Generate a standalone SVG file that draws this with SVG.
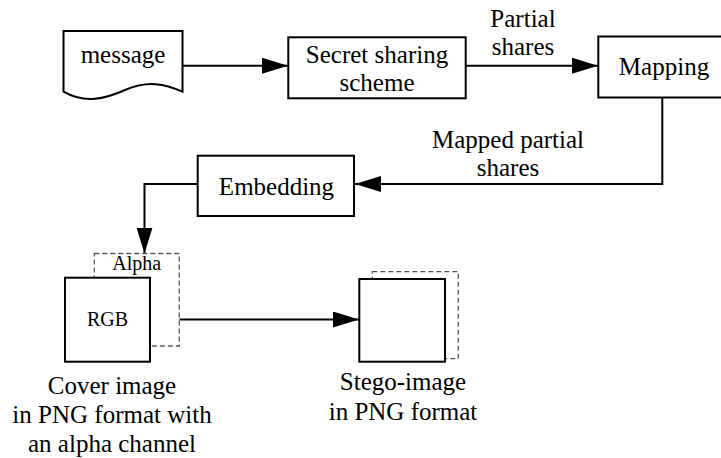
<svg xmlns="http://www.w3.org/2000/svg" width="721" height="458" viewBox="0 0 721 458">
<style>
.box{fill:#fff;stroke:#000;stroke-width:2}
.dash{fill:#fff;stroke:#555;stroke-width:1.3;stroke-dasharray:5,3}
.ln{fill:none;stroke:#000;stroke-width:2}
text{font-family:'Liberation Serif','DejaVu Serif',serif;font-size:25px;fill:#000;text-anchor:middle}
.sm{font-size:20px}
</style>
<defs>
<marker id="ah" markerUnits="userSpaceOnUse" markerWidth="26" markerHeight="16" refX="26" refY="8" orient="auto">
<path d="M0,0 L26,8 L0,16 Z" fill="#000"/>
</marker>
</defs>
<g id="connectors">
<line class="ln" x1="182.5" y1="65.7" x2="288" y2="65.7" marker-end="url(#ah)"/>
<line class="ln" x1="466" y1="65.7" x2="598" y2="65.7" marker-end="url(#ah)"/>
<polyline class="ln" points="662.3,97 662.3,184 355,184" marker-end="url(#ah)"/>
<polyline class="ln" points="198,184 144.5,184 144.5,253.5" marker-end="url(#ah)"/>
<line class="ln" x1="179.3" y1="319.5" x2="359" y2="319.5" marker-end="url(#ah)"/>
<text x="523" y="27">Partial</text>
<text x="523" y="55">shares</text>
<text x="508" y="148">Mapped partial</text>
<text x="508" y="176">shares</text>
</g>
<g id="message">
<path class="box" d="M63.5,31 H182.5 V91.7 C165,84 148,80 125,90 C105,99 85,104 63.5,91.7 Z"/>
<text x="123" y="63">message</text>
</g>
<g id="secret">
<rect class="box" x="288.3" y="37.3" width="177.4" height="61"/>
<text x="377" y="63">Secret sharing</text>
<text x="377" y="91">scheme</text>
</g>
<g id="mapping">
<rect class="box" x="598.3" y="36.5" width="130" height="61"/>
<text x="664" y="75">Mapping</text>
</g>
<g id="embedding">
<rect class="box" x="197.7" y="155.7" width="156.3" height="60.3"/>
<text x="276.5" y="195">Embedding</text>
</g>
<g id="cover">
<rect class="dash" x="94.3" y="253.5" width="85" height="92.5"/>
<text class="sm" x="136.7" y="270">Alpha</text>
<rect class="box" x="65" y="277.7" width="85" height="84"/>
<text class="sm" x="107.5" y="326">RGB</text>
<text x="112" y="394">Cover image</text>
<text x="112" y="423">in PNG format with</text>
<text x="112" y="452">an alpha channel</text>
</g>
<g id="stego">
<rect class="dash" x="372.3" y="271.7" width="86" height="87"/>
<rect class="box" x="359.3" y="279" width="85.7" height="82.7"/>
<text x="403" y="390">Stego-image</text>
<text x="403" y="420">in PNG format</text>
</g>
</svg>
